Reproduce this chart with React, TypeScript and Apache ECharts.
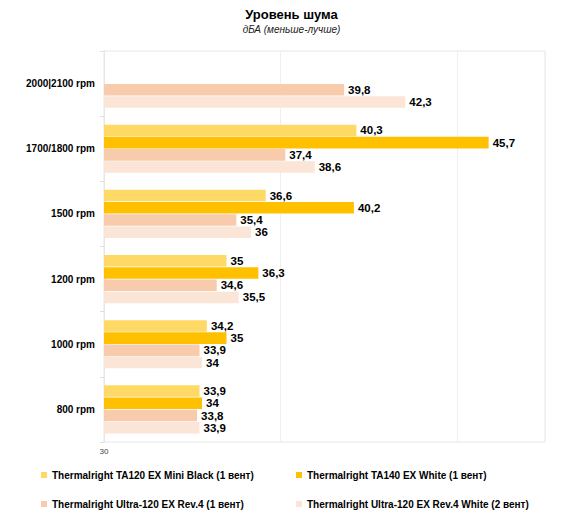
import React, { useEffect, useRef } from "react";
import * as echarts from "echarts";

const categories = ["2000|2100 rpm", "1700/1800 rpm", "1500 rpm", "1200 rpm", "1000 rpm", "800 rpm"];
const seriesNames = [
  "Thermalright TA120 EX Mini Black (1 вент)",
  "Thermalright TA140 EX White (1 вент)",
  "Thermalright Ultra-120 EX Rev.4 (1 вент)",
  "Thermalright Ultra-120 EX Rev.4 White (2 вент)",
];
const miniBlack = [null, 40.3, 36.6, 35, 34.2, 33.9];
const ta140 = [null, 45.7, 40.2, 36.3, 35, 34];
const ultra1 = [39.8, 37.4, 35.4, 34.6, 33.9, 33.8];
const ultra2 = [42.3, 38.6, 36, 35.5, 34, 33.9];
const seriesValues = [miniBlack, ta140, ultra1, ultra2];
const colors = ["#FFD966", "#FFC000", "#F8CBAD", "#FBE5D6"];

const FONT = "Liberation Sans, Arial, sans-serif";

export default function App() {
  const ref = useRef<HTMLDivElement>(null);
  useEffect(() => {
    if (!ref.current) return;
    const chart = echarts.init(ref.current, null, { renderer: "svg" });
    const legendPos = [
      { left: 41, top: 470 },
      { left: 296, top: 470 },
      { left: 41, top: 499 },
      { left: 296, top: 499 },
    ];
    chart.setOption({
      animation: false,
      backgroundColor: "#ffffff",
      textStyle: { fontFamily: FONT },
      title: {
        text: "Уровень шума",
        subtext: "дБА (меньше-лучше)",
        left: "center",
        top: 3,
        itemGap: 3,
        textStyle: { fontSize: 13, fontWeight: "bold", color: "#000", fontFamily: FONT },
        subtextStyle: { fontSize: 10, fontStyle: "italic", color: "#222", fontFamily: FONT },
      },
      graphic: [
        {
          type: "rect",
          shape: { x: 0.5, y: 0.5, width: 582, height: 524 },
          style: { fill: "none", stroke: "#e4e4e4", lineWidth: 1 },
          silent: true,
        },
      ],
      legend: seriesNames.map((n, i) => ({
        data: [n],
        left: legendPos[i].left,
        top: legendPos[i].top,
        padding: 0,
        icon: "rect",
        itemWidth: 6,
        itemHeight: 6,
        itemGap: 4,
        textStyle: { fontSize: 10, fontWeight: "bold", color: "#000", fontFamily: FONT },
        selectedMode: false,
      })),
      grid: {
        left: 104,
        right: 38,
        top: 51,
        bottom: 83,
        show: true,
        borderColor: "#e6e6e6",
        borderWidth: 1,
        containLabel: false,
      },
      xAxis: [
        {
          type: "value",
          min: 30,
          max: 48,
          splitLine: { show: false },
          axisLine: { show: false },
          axisTick: { show: false },
          axisLabel: {
            formatter: (v: number) => (v === 30 ? "30" : ""),
            fontSize: 8,
            color: "#444",
            margin: 5,
            fontFamily: FONT,
          },
        },
        {
          type: "value",
          min: 0,
          max: 18,
          interval: 7.2,
          position: "bottom",
          show: true,
          axisLine: { show: false },
          axisTick: { show: false },
          axisLabel: { show: false },
          splitLine: { show: true, lineStyle: { color: "#efefef", width: 1 } },
        },
      ],
      yAxis: {
        type: "category",
        data: categories,
        inverse: true,
        axisLine: { show: true, lineStyle: { color: "#e6e6e6" } },
        axisTick: { show: true, length: 4, lineStyle: { color: "#e0e0e0" } },
        axisLabel: { fontSize: 10, fontWeight: "bold", color: "#000", margin: 9, fontFamily: FONT },
      },
      series: seriesValues.map((vals, i) => ({
        name: seriesNames[i],
        type: "bar",
        xAxisIndex: 0,
        data: vals,
        barGap: "6%",
        barCategoryGap: "26%",
        itemStyle: { color: colors[i] },
        label: {
          show: true,
          position: "right",
          distance: 4,
          fontSize: 11.5,
          lineHeight: 12,
          fontWeight: "bold",
          color: "#000",
          fontFamily: FONT,
          formatter: (p: any) => String(p.value).replace(".", ","),
        },
      })),
    });
    return () => chart.dispose();
  }, []);
  return <div ref={ref} style={{ width: 583, height: 525, margin: -8 }} />;
}
